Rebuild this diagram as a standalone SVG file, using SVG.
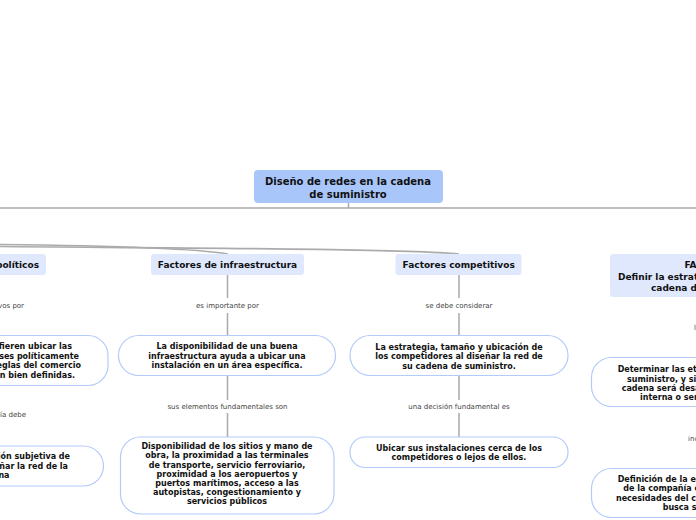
<svg xmlns="http://www.w3.org/2000/svg" width="696" height="520" viewBox="0 0 696 520">
<style>
.bg{fill:#ffffff}
.conn{fill:none;stroke:#a9a9a9;stroke-width:1.5}
.curve{fill:none;stroke:#ababab;stroke-width:1.6}
.root{fill:#a9c6fb}
.cat{fill:#dfe8fd}
.pill{fill:#ffffff;stroke:#b3cbfa;stroke-width:1.2}
.t{font-family:"DejaVu Sans",Verdana,sans-serif;font-weight:bold;fill:#111}
.rt{font-size:10px;text-anchor:middle}
.ct{font-size:9px}
.nt{font-size:8px}
.lb{font-family:"DejaVu Sans",Verdana,sans-serif;font-size:7px;fill:#444}
.m{text-anchor:middle}
.e{text-anchor:end}
.s{text-anchor:start}
</style>
<rect class="bg" x="0" y="0" width="696" height="520"/>
<g id="connectors">
<line class="conn" x1="0" y1="208" x2="696" y2="208"/>
<line class="conn" x1="348.5" y1="203" x2="348.5" y2="208"/>
<path class="curve" d="M0,244.5 C90,245.5 190,247.5 228,254"/>
<path class="curve" d="M0,246.5 C160,248 400,248.5 459,254"/>
<line class="conn" x1="227.5" y1="275" x2="227.5" y2="298"/>
<line class="conn" x1="227.5" y1="313" x2="227.5" y2="336"/>
<line class="conn" x1="227.5" y1="376" x2="227.5" y2="400"/>
<line class="conn" x1="227.5" y1="413" x2="227.5" y2="437"/>
<line class="conn" x1="459" y1="275" x2="459" y2="298"/>
<line class="conn" x1="459" y1="313" x2="459" y2="336"/>
<line class="conn" x1="459" y1="376" x2="459" y2="400"/>
<line class="conn" x1="459" y1="413" x2="459" y2="437"/>
<text class="lb e" x="24" y="307.5">son decisivos por</text>
<text class="lb e" x="26" y="416.5">la compañía debe</text>
<text class="lb m" x="227.5" y="307.5">es importante por</text>
<text class="lb m" x="227.5" y="409">sus elementos fundamentales son</text>
<text class="lb m" x="459" y="307.5">se debe considerar</text>
<text class="lb m" x="459" y="409">una decisión fundamental es</text>
<text class="lb s" x="694" y="330">la fase consiste en</text>
<text class="lb s" x="688" y="441">incluye</text>
</g>
<g id="root">
<rect class="root" x="254" y="170" width="189" height="33" rx="4"/>
<text class="t rt" x="348" y="185">Diseño de redes en la cadena</text>
<text class="t rt" x="348" y="197.5">de suministro</text>
</g>
<g id="n-politicos">
<rect class="cat" x="-70" y="254" width="116" height="21" rx="3"/>
<text class="t ct e" x="39" y="268">Factores políticos</text>
</g>
<g id="n-infraestructura">
<rect class="cat" x="151" y="254" width="153" height="21" rx="3"/>
<text class="t ct m" x="227.5" y="268">Factores de infraestructura</text>
</g>
<g id="n-competitivos">
<rect class="cat" x="395.5" y="254" width="126" height="21" rx="3"/>
<text class="t ct m" x="458.7" y="268">Factores competitivos</text>
</g>
<g id="n-fase">
<rect class="cat" x="610" y="254" width="200" height="43" rx="3"/>
<text class="t ct s" x="684.5" y="268">FASE I:</text>
<text class="t ct s" x="618" y="279.5">Definir la estrategia/diseño de la</text>
<text class="t ct s" x="651" y="291">cadena de suministro</text>
</g>
<g id="n-pol-1">
<rect class="pill" x="-110" y="335.5" width="218" height="50" rx="20"/>
<text class="t nt e" x="72" y="349">Las empresas prefieren ubicar las</text>
<text class="t nt e" x="79" y="358.5">instalaciones en países políticamente</text>
<text class="t nt e" x="81" y="368">estables, en los que las reglas del comercio</text>
<text class="t nt e" x="75" y="377.5">y la propiedad están bien definidas.</text>
</g>
<g id="n-pol-2">
<rect class="pill" x="-110" y="446" width="213.5" height="40" rx="20"/>
<text class="t nt e" x="70" y="459">Hacer una evaluación subjetiva de</text>
<text class="t nt e" x="68" y="468.5">su riesgo político al diseñar la red de la</text>
<text class="t nt e" x="9.5" y="478">cadena</text>
</g>
<g id="n-infra-1">
<rect class="pill" x="118.5" y="335.5" width="217" height="40" rx="20"/>
<text class="t nt m" x="227" y="349">La disponibilidad de una buena</text>
<text class="t nt m" x="227" y="358.5">infraestructura ayuda a ubicar una</text>
<text class="t nt m" x="227" y="368">instalación en un área específica.</text>
</g>
<g id="n-infra-2">
<rect class="pill" x="120.5" y="437" width="213.5" height="77" rx="20"/>
<text class="t nt m" x="227" y="449.2">Disponibilidad de los sitios y mano de</text>
<text class="t nt m" x="227" y="458.4">obra, la proximidad a las terminales</text>
<text class="t nt m" x="227" y="467.6">de transporte, servicio ferroviario,</text>
<text class="t nt m" x="227" y="476.8">proximidad a los aeropuertos y</text>
<text class="t nt m" x="227" y="486">puertos marítimos, acceso a las</text>
<text class="t nt m" x="227" y="495.2">autopistas, congestionamiento y</text>
<text class="t nt m" x="227" y="504.4">servicios públicos</text>
</g>
<g id="n-comp-1">
<rect class="pill" x="350" y="335.5" width="218" height="40" rx="20"/>
<text class="t nt m" x="459" y="349.5">La estrategia, tamaño y ubicación de</text>
<text class="t nt m" x="459" y="359">los competidores al diseñar la red de</text>
<text class="t nt m" x="459" y="368.5">su cadena de suministro.</text>
</g>
<g id="n-comp-2">
<rect class="pill" x="350" y="437" width="218" height="30.5" rx="15"/>
<text class="t nt m" x="459" y="450.7">Ubicar sus instalaciones cerca de los</text>
<text class="t nt m" x="459" y="460.3">competidores o lejos de ellos.</text>
</g>
<g id="n-fase-1">
<rect class="pill" x="591.5" y="357.5" width="220" height="49" rx="20"/>
<text class="t nt s" x="617.7" y="372">Determinar las etapas de la cadena de</text>
<text class="t nt s" x="627" y="381.5">suministro, y si cada etapa de la</text>
<text class="t nt s" x="621.7" y="391">cadena será desarrollada en forma</text>
<text class="t nt s" x="640" y="400">interna o será subcontratada.</text>
</g>
<g id="n-fase-2">
<rect class="pill" x="591.5" y="468.5" width="220" height="49" rx="20"/>
<text class="t nt s" x="617.7" y="482">Definición de la estrategia competitiva</text>
<text class="t nt s" x="623.3" y="491.3">de la compañía con base en las</text>
<text class="t nt s" x="616" y="500.5">necesidades del cliente que ésta</text>
<text class="t nt s" x="662.7" y="509.8">busca satisfacer.</text>
</g>
</svg>
